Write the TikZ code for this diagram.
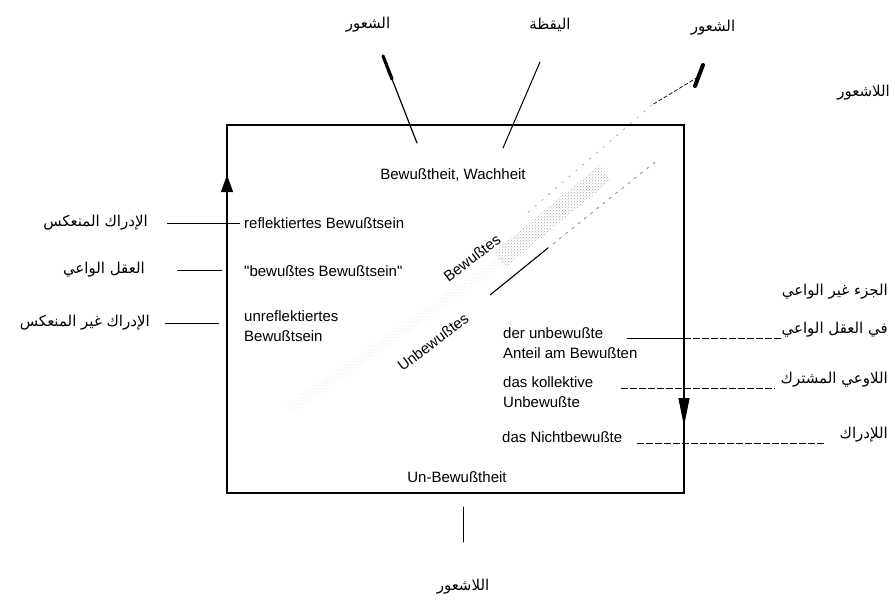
\documentclass[tikz,border=0pt]{standalone}
\usepackage{fontspec}
\setmainfont{Liberation Sans}
\newfontfamily\arabicfont[Script=Arabic]{DejaVu Sans}
\TeXXeTstate=1
\usetikzlibrary{arrows.meta,patterns}
\newcommand{\artxt}[1]{\arabicfont\beginR #1\endR}

\begin{document}
\begin{tikzpicture}[
  x=1pt, y=-1pt,
  de/.style={font=\fontsize{15}{20}\selectfont, align=left, inner sep=0pt},
  arb/.style={font=\fontsize{15}{18}\selectfont, inner sep=0pt},
  frame/.style={line width=1.3pt},
  leader/.style={line width=0.8pt},
  dleader/.style={line width=0.8pt, dash pattern=on 7pt off 2pt},
  pointer/.style={line width=1.2pt, line cap=round}
]
\useasboundingbox (0,0) rectangle (895,605);

\coordinate (nw) at (227,125);
\coordinate (ne) at (684,125);
\coordinate (se) at (684,493);
\coordinate (sw) at (227,493);
\coordinate (uptip) at (227,175);
\coordinate (downtip) at (684,426);

% band
\fill[pattern=dots, pattern color=gray!35] (287,405) -- (498,257) -- (504,265) -- (293,413) -- cycle;
\fill[pattern=crosshatch dots, pattern color=gray!70] (494,252) -- (599,165) -- (611,180) -- (506,267) -- cycle;
\coordinate (bandA) at (655,162);
\coordinate (bandB) at (548,248);
\coordinate (bandC) at (490,295);
\draw[line width=0.7pt, dash pattern=on 3pt off 5pt, gray] (bandA) -- (bandB);
\draw[line width=1.1pt] (bandB) -- (bandC);
\coordinate (markA) at (703,65);
\coordinate (markB) at (695,86);
\coordinate (markC) at (652,105);
\coordinate (markD) at (525,215);
\draw[line width=4pt, line cap=round] (markA) -- (markB);
\draw[line width=0.7pt, dash pattern=on 4pt off 2pt] (698,77) -- (markC);
\draw[line width=0.5pt, dash pattern=on 2pt off 7pt, gray] (markC) -- (markD);

\draw[frame] (nw) -- (ne) -- (se) -- (sw) -- cycle;
\draw[frame, -{Triangle[length=17pt,width=12pt]}] (sw) -- (uptip);
\draw[frame, -{Triangle[length=28pt,width=11pt]}] (ne) -- (downtip);

\node[de] (wach) at (453,175) {Bewußtheit,\ Wachheit};
\node[de, anchor=west] (refl) at (244,223) {reflektiertes Bewußtsein};
\node[de, anchor=west] (bewb) at (244,271) {\textquotedbl bewußtes Bewußtsein\textquotedbl};
\node[de, anchor=west] (unrefl) at (244,326) {unreflektiertes\\Bewußtsein};
\node[de, rotate=37] (bewt) at (472,258) {Bewußtes};
\node[de, rotate=37] (unbewt) at (433,342) {Unbewußtes};
\node[de, anchor=west] (anteil) at (503,343) {der unbewußte\\Anteil am Bewußten};
\node[de, anchor=west] (koll) at (503,392) {das kollektive\\Unbewußte};
\node[de, anchor=west] (nicht) at (502,437) {das Nichtbewußte};
\node[de] (unbew) at (457,477) {Un-Bewußtheit};

\node[arb] (lblA) at (368,25) {\artxt{الشعور}};
\node[arb] (lblB) at (550,25) {\artxt{اليقظة}};
\node[arb] (lblC) at (713,28) {\artxt{الشعور}};
\node[arb, anchor=east] (lblD) at (890,93) {\artxt{اللاشعور}};
\node[arb, anchor=east] (lblE) at (148,223) {\artxt{الإدراك المنعكس}};
\node[arb, anchor=east] (lblF) at (145,270) {\artxt{العقل الواعي}};
\node[arb, anchor=east] (lblG) at (150,323) {\artxt{الإدراك غير المنعكس}};
\node[arb, anchor=east] (lblH) at (888,292) {\artxt{الجزء غير الواعي}};
\node[arb, anchor=east] (lblI) at (888,330) {\artxt{في العقل الواعي}};
\node[arb, anchor=east] (lblJ) at (888,380) {\artxt{اللاوعي المشترك}};
\node[arb, anchor=east] (lblK) at (888,435) {\artxt{اللإدراك}};
\node[arb] (lblL) at (463,587) {\artxt{اللاشعور}};

\coordinate (p1a) at (383,56);
\coordinate (p1b) at (417,143);
\coordinate (p1c) at (392,79);
\draw[pointer] (p1a) -- (p1b);
\draw[line width=3.2pt, line cap=round] (p1a) -- (p1c);
\coordinate (p2a) at (540,62);
\coordinate (p2b) at (503,148);
\draw[pointer, line width=1pt] (p2a) -- (p2b);
\coordinate (p3a) at (463,507);
\coordinate (p3b) at (463,542);
\draw[pointer, line width=1pt] (p3a) -- (p3b);

\coordinate (l1) at (240,223);
\coordinate (l2) at (222,270);
\coordinate (l3) at (219,323);
\draw[leader, shorten <=19pt] (lblE) -- (l1);
\draw[leader, shorten <=32pt] (lblF) -- (l2);
\draw[leader, shorten <=15pt] (lblG) -- (l3);

\coordinate (r1) at (627,338);
\coordinate (r2) at (621,388);
\coordinate (r3) at (637,443);
\draw[leader] (r1) -- (r1 -| ne);
\draw[dleader] (r1 -| ne) -- (r1 -| lblI.west);
\draw[dleader, shorten >=5pt] (r2) -- (r2 -| lblJ.west);
\draw[dleader, shorten >=15pt] (r3) -- (r3 -| lblK.west);
\end{tikzpicture}
\end{document}
